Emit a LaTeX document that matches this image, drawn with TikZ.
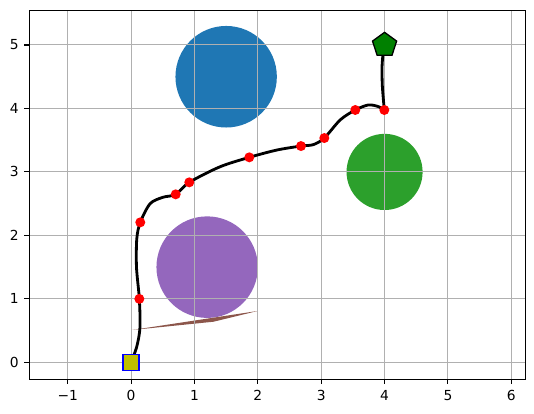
\documentclass[tikz,border=0pt]{standalone}
\usepackage{fontspec}
\setmainfont{DejaVu Sans}
\usetikzlibrary{shapes.geometric}
\definecolor{obsblue}{HTML}{1F77B4}
\definecolor{obsgreen}{HTML}{2CA02C}
\definecolor{obspurple}{HTML}{9467BD}
\definecolor{obsbrown}{HTML}{8C564B}
\definecolor{gridgray}{HTML}{B0B0B0}
\definecolor{startfill}{HTML}{BFBF00}
\definecolor{goalfill}{HTML}{008000}

\begin{document}
\begin{tikzpicture}[
  x=1.901cm,y=1.904cm,
  gridline/.style={draw=gridgray,line width=.85pt},
  frame/.style={draw=black,line width=.9pt},
  tickmark/.style={draw=black,line width=.9pt},
  ticklabel/.style={inner sep=0pt,font=\fontsize{11.8}{14}\selectfont},
  route/.style={draw=black,line width=2.4pt,line cap=round,line join=round},
  waypoint/.style={circle,fill=red,inner sep=0pt,minimum size=3mm},
  startmark/.style={rectangle,fill=startfill,draw=blue,line width=1.1pt,
    inner sep=0pt,minimum size=4.8mm},
  goalmark/.style={regular polygon,regular polygon sides=5,fill=goalfill,
    draw=black,line width=1.1pt,inner sep=0pt,minimum size=7.6mm}
]
  \useasboundingbox (-2.0688,-0.799) rectangle (6.358,5.709);

  \fill[obsblue] (1.5,4.5) circle (.8);
  \fill[obsgreen] (4,3) circle (.6);
  \fill[obspurple] (1.2,1.5) circle (.8);
  \fill[obsbrown] (0.02,0.51) -- (2,0.81) -- (1.3,0.64) -- cycle;

  \foreach \x in {-1,...,6}
    \draw[gridline] (\x,-0.263) -- (\x,5.547);
  \foreach \y in {0,...,5}
    \draw[gridline] (-1.606,\y) -- (6.227,\y);
  \draw[frame] (-1.606,-0.263) rectangle (6.227,5.547);

  \foreach \x/\t [count=\i] in {-1/−1,0/0,1/1,2/2,3/3,4/4,5/5,6/6}{
    \draw[tickmark] (\x,-0.263) -- ++(0,-0.077);
    \node[ticklabel] (xl\i) at (\x,-0.526) {\t};
  }
  \foreach \y [count=\i] in {0,...,5}{
    \draw[tickmark] (-1.606,\y) -- ++(-0.077,0);
    \node[ticklabel,anchor=east] (yl\i) at (-1.769,\y) {\y};
  }

  \coordinate (s) at (0,0);
  \coordinate (g) at (4,5);
  \foreach \x/\y [count=\i] in {0.13/1.0,0.145/2.206,0.704/2.647,
      0.918/2.836,1.865/3.23,2.681/3.408,3.049/3.534,
      3.538/3.976,3.996/3.976}
    \coordinate (w\i) at (\x,\y);

  \draw[route] plot[smooth] coordinates {(s) (0.09,0.25) (0.14,0.55) (w1)
      (0.085,1.5) (0.09,1.95) (w2) (0.30,2.50) (0.50,2.60) (w3) (w4)
      (1.40,3.08) (w5) (2.30,3.345) (w6) (2.875,3.43) (w7) (3.30,3.82)
      (w8) (3.743,4.055) (3.90,4.03) (w9)}
    plot[smooth] coordinates {(w9) (3.965,4.35) (3.96,4.66) (3.98,4.9) (g)};

  \foreach \i in {1,...,9}
    \node[waypoint] (wp\i) at (w\i) {};
  \node[startmark] (start) at (s) {};
  \node[goalmark] (goal) at (g) {};
\end{tikzpicture}
\end{document}
